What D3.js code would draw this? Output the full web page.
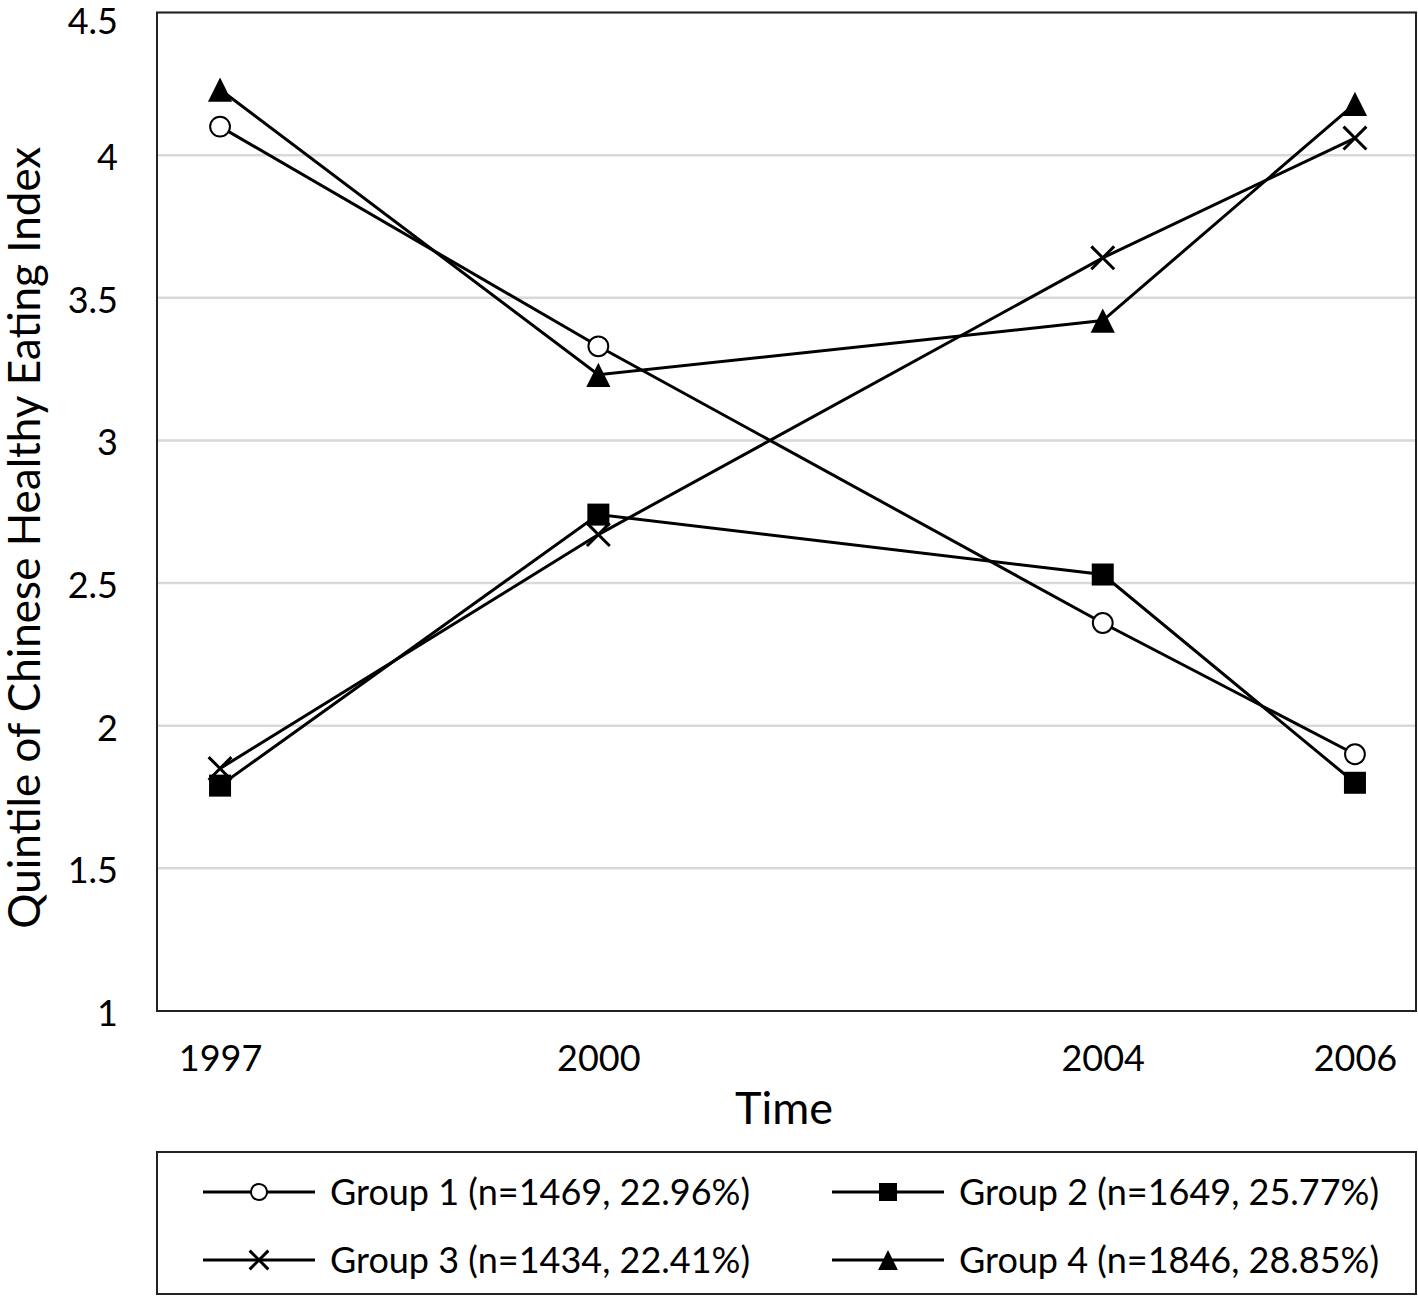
<!DOCTYPE html>
<html>
<head>
<meta charset="utf-8">
<script src="https://cdn.jsdelivr.net/npm/d3@7"></script>
<style>
  body { margin: 0; background: #fff; }
  svg text { font-family: Lato, 'Open Sans', sans-serif; fill: #000; }
</style>
</head>
<body>
<svg id="chart"></svg>
<script>
// chart values
const years = [1997, 2000, 2004, 2006];
const yTicks = [1, 1.5, 2, 2.5, 3, 3.5, 4, 4.5];
const groupNames = [
  'Group 1 (n=1469, 22.96%)',
  'Group 2 (n=1649, 25.77%)',
  'Group 3 (n=1434, 22.41%)',
  'Group 4 (n=1846, 28.85%)',
];
const group1 = [4.10, 3.33, 2.36, 1.90];
const group2 = [1.79, 2.74, 2.53, 1.80];
const group3 = [1.85, 2.67, 3.64, 4.06];
const group4 = [4.23, 3.23, 3.42, 4.18];
const markers = ['circle', 'square', 'cross', 'triangle'];

const config = {
  w: 1418,
  h: 1296,
  left: 157,
  right: 1416,
  top: 12.5,
  bottom: 1011,
  fontSize: 36,
  titleSize: 44,
};

const series = [group1, group2, group3, group4].map((vals, i) => ({
  name: groupNames[i],
  marker: markers[i],
  points: vals.map((v, j) => ({ year: years[j], value: v })),
}));

const x = d3.scaleLinear()
  .domain([1996.5, 2006.5])
  .range([config.left, config.left + 1261]);

const y = d3.scaleLinear()
  .domain([1, 4.5])
  .range([config.bottom, config.top]);

const svg = d3.select('#chart')
  .attr('width', config.w)
  .attr('height', config.h);

// gridlines
svg.append('g')
  .selectAll('line')
  .data(yTicks.slice(1))
  .join('line')
  .attr('x1', config.left)
  .attr('x2', config.right)
  .attr('y1', (d) => y(d))
  .attr('y2', (d) => y(d))
  .attr('stroke', '#d9d9d9')
  .attr('stroke-width', 2.5);

// plot border
svg.append('rect')
  .attr('x', config.left)
  .attr('y', config.top)
  .attr('width', config.right - config.left)
  .attr('height', config.bottom - config.top)
  .attr('fill', 'none')
  .attr('stroke', '#222')
  .attr('stroke-width', 2);

// y axis labels
const yAxis = d3.axisLeft(y)
  .tickValues(yTicks)
  .tickFormat(d3.format('~g'))
  .tickSize(0)
  .tickPadding(39);
svg.append('g')
  .attr('transform', `translate(${config.left},3)`)
  .call(yAxis)
  .call((g) => g.select('.domain').remove())
  .selectAll('text')
  .attr('font-size', config.fontSize)
  .attr('dy', (d) => (d === 4.5 ? '0.5em' : '0.32em'))
  .style('font-family', 'Lato, sans-serif');

// x axis labels
const xAxis = d3.axisBottom(x)
  .tickValues(years)
  .tickFormat(d3.format('d'))
  .tickSize(0)
  .tickPadding(34);
svg.append('g')
  .attr('transform', `translate(0,${config.bottom})`)
  .call(xAxis)
  .call((g) => g.select('.domain').remove())
  .selectAll('text')
  .attr('font-size', config.fontSize)
  .style('font-family', 'Lato, sans-serif');

// axis titles
svg.append('text')
  .attr('text-anchor', 'middle')
  .attr('x', 784)
  .attr('y', 1124)
  .attr('font-size', 45)
  .text('Time');

svg.append('text')
  .attr('text-anchor', 'middle')
  .attr('transform', `translate(40,${(config.top + config.bottom) / 2 + 26}) rotate(-90)`)
  .attr('font-size', config.titleSize)
  .text('Quintile of Chinese Healthy Eating Index');

// marker drawing
const drawMarker = (sel, type, size) => {
  if (type === 'circle') {
    sel.append('circle').attr('r', size * 0.45)
      .attr('fill', '#fff').attr('stroke', '#000').attr('stroke-width', 2);
  } else if (type === 'square') {
    sel.append('rect')
      .attr('x', -size / 2).attr('y', -size / 2)
      .attr('width', size).attr('height', size)
      .attr('fill', '#000');
  } else if (type === 'cross') {
    const s = size * 0.52;
    sel.append('path')
      .attr('d', `M${-s},${-s}L${s},${s}M${-s},${s}L${s},${-s}`)
      .attr('stroke', '#000').attr('stroke-width', 3).attr('fill', 'none');
  } else {
    const s = size * 0.55;
    sel.append('path')
      .attr('d', `M0,${-s}L${s},${s}L${-s},${s}Z`)
      .attr('fill', '#000');
  }
};

const line = d3.line()
  .x((d) => x(d.year))
  .y((d) => y(d.value));

const groups = svg.append('g')
  .selectAll('g')
  .data(series)
  .join('g');

groups.append('path')
  .attr('d', (d) => line(d.points))
  .attr('fill', 'none')
  .attr('stroke', '#000')
  .attr('stroke-width', 3);

groups.each(function addMarkers(s) {
  d3.select(this).selectAll('g.mk')
    .data(s.points)
    .join('g')
    .attr('class', 'mk')
    .attr('transform', (d) => `translate(${x(d.year)},${y(d.value)})`)
    .each(function mk() { drawMarker(d3.select(this), s.marker, 22); });
});

// legend
const legendTop = 1152;
svg.append('rect')
  .attr('x', config.left)
  .attr('y', legendTop)
  .attr('width', config.right - config.left)
  .attr('height', 142)
  .attr('fill', 'none')
  .attr('stroke', '#222')
  .attr('stroke-width', 2);

const legendCols = [203, 832];
const legendRows = [1192, 1260];
const legend = svg.append('g')
  .selectAll('g')
  .data(series)
  .join('g')
  .attr('transform', (d, i) => `translate(${legendCols[i % 2]},${legendRows[Math.floor(i / 2)]})`);

legend.append('line')
  .attr('x1', 0).attr('x2', 112)
  .attr('stroke', '#000').attr('stroke-width', 3);

legend.each(function lm(d) {
  const g = d3.select(this).append('g').attr('transform', 'translate(56,0)');
  drawMarker(g, d.marker, 18);
});

legend.append('text')
  .attr('x', 127)
  .attr('dy', '0.35em')
  .attr('font-size', config.fontSize)
  .text((d) => d.name);
</script>
</body>
</html>
